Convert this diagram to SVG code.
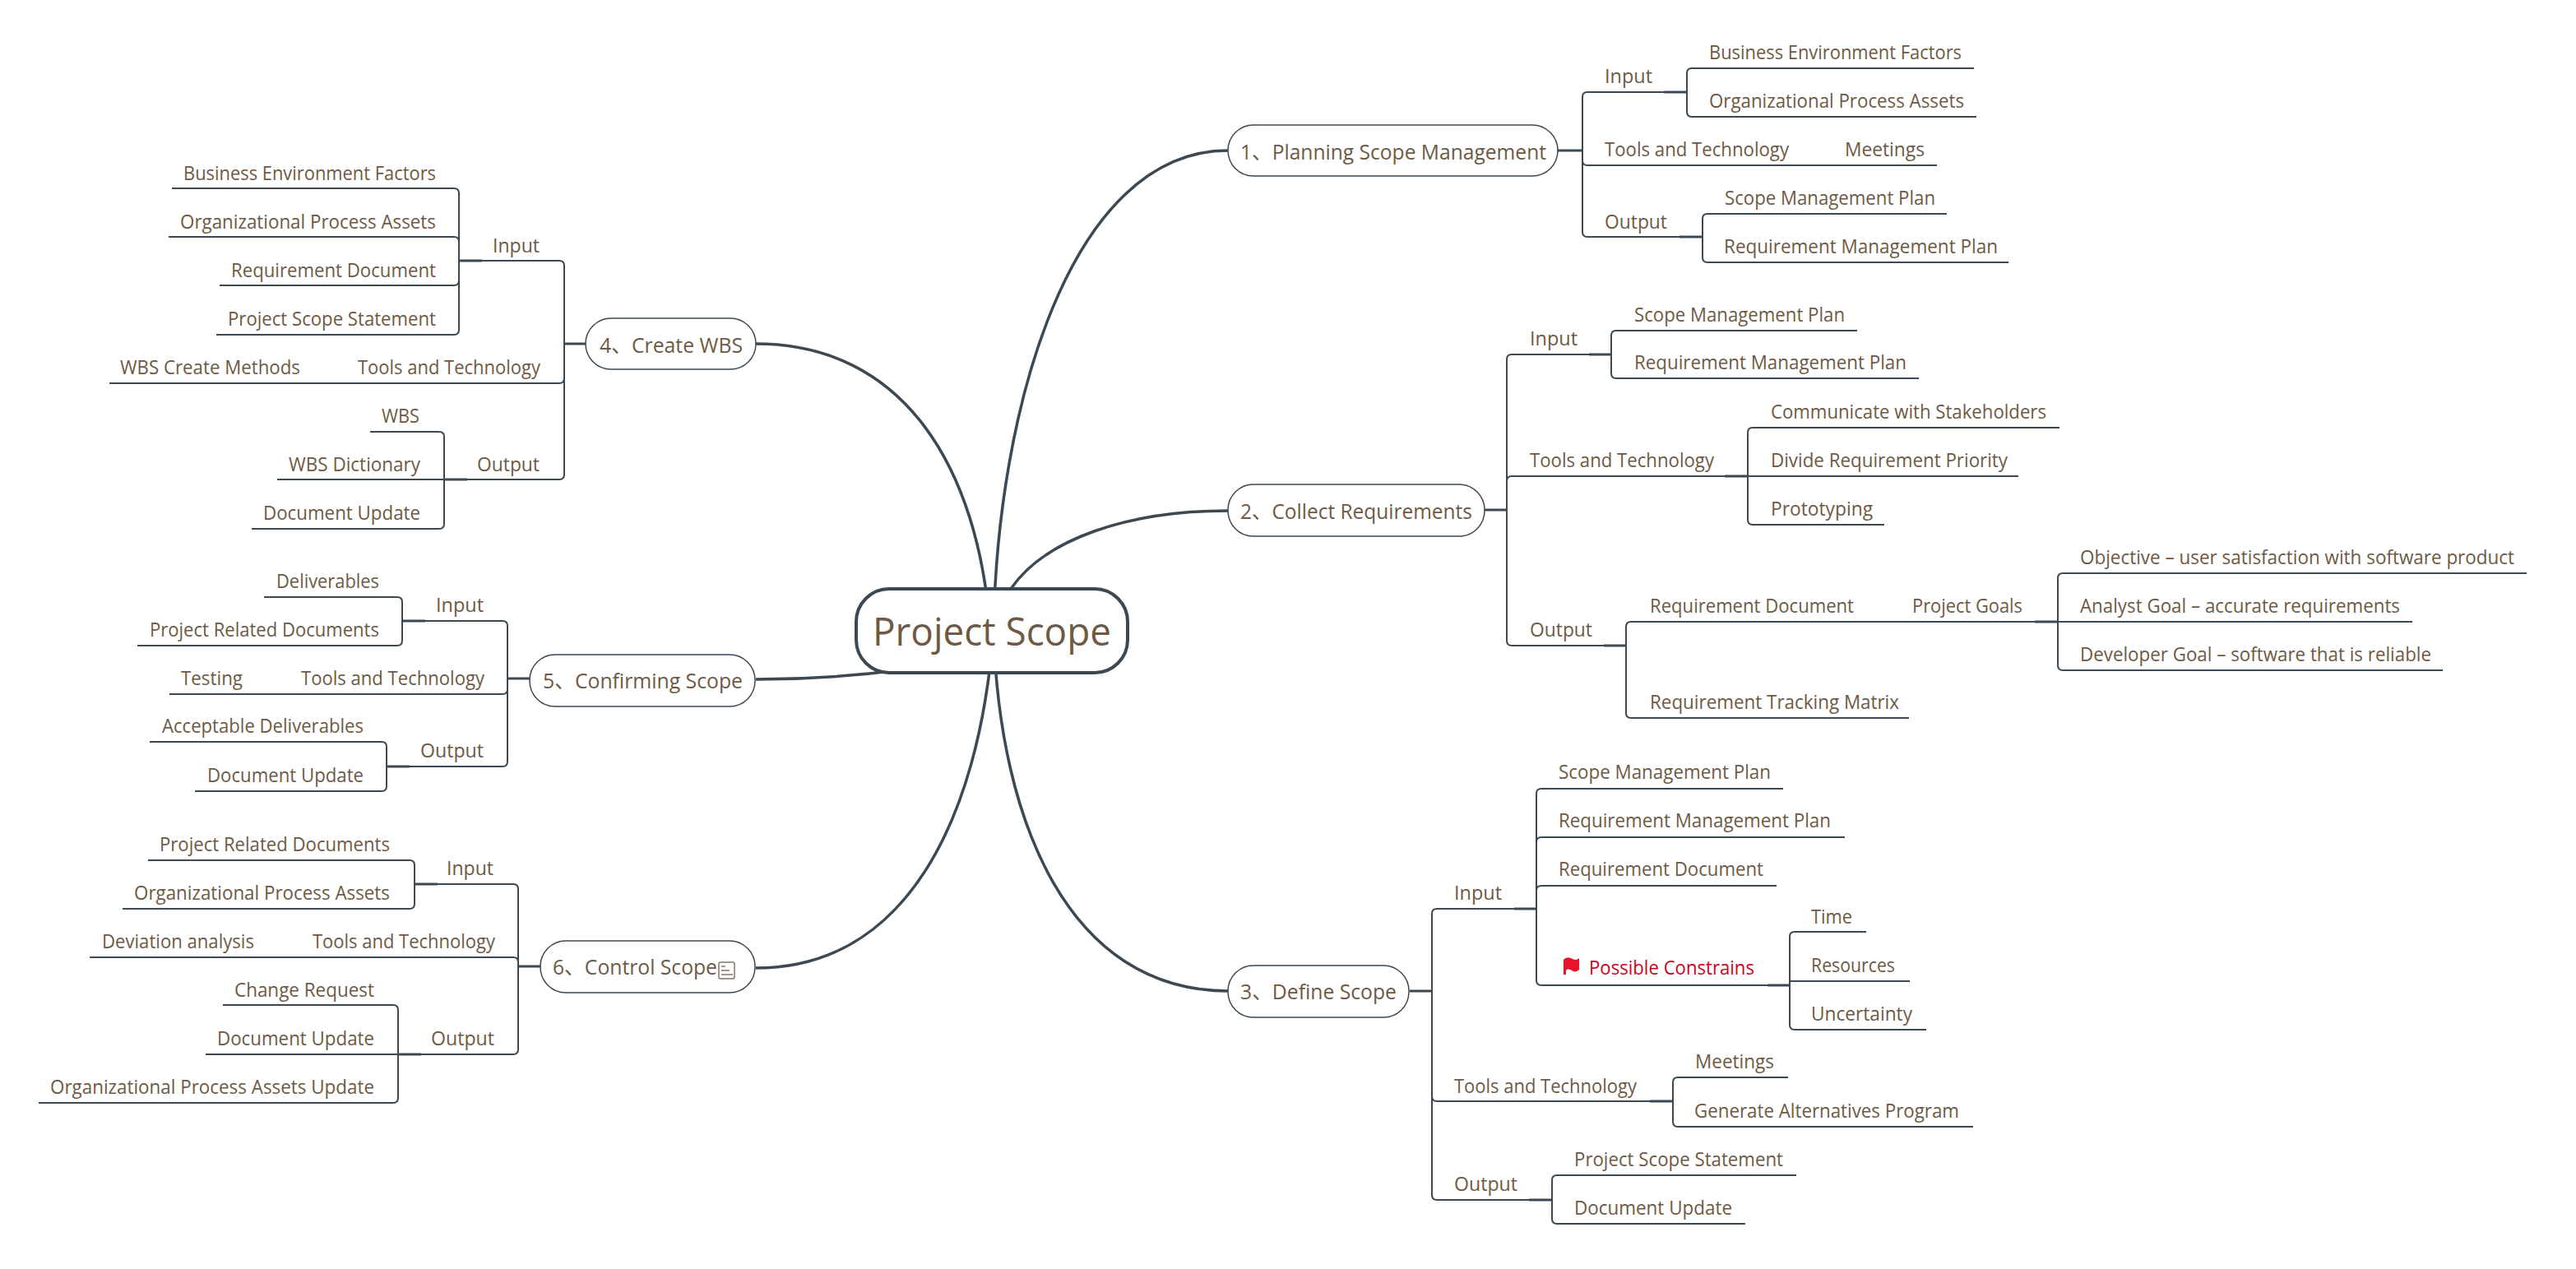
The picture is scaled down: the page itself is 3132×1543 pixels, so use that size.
<svg xmlns="http://www.w3.org/2000/svg" width="3132" height="1543" viewBox="0 0 3132 1543">
<style>
text{font-family:"Open Sans","Noto Sans CJK SC",sans-serif;fill:#6e5a44;font-size:23px}
.b{font-size:26px}
.c{font-size:48px}
.r{fill:#d0021b}
.sh{fill:#fff;stroke:#3c4852;stroke-width:1.5}
.ctr{fill:#fff;stroke:#3c4852;stroke-width:4}
#connectors path{fill:none;stroke:#3c4852;stroke-width:2}
#connectors .m{stroke-width:3.5}
#connectors .s{stroke-width:3}
</style>
<rect width="3132" height="1543" fill="#fff"/>
<g id="connectors">
<path class="m" d="M1208 767C1212 500 1300 183 1493 183"/>
<path class="m" d="M1229 716C1270 656 1370 621 1493 621"/>
<path class="m" d="M1208 767C1215 1000 1300 1205 1493 1205"/>
<path class="m" d="M1204 767C1190 570 1100 418 919 418"/>
<path class="m" d="M1100 814C1040 822 980 826 919 826"/>
<path class="m" d="M1208 767C1190 1000 1100 1177 919 1177"/>
<path class="s" d="M1894 183H1924M1805 620H1832M1714 1205H1741M712 418H686M644 825H617M657 1175H630"/>
<path class="s" d="M2023 112H2051M2042 288H2070M1932 431H1959M2097 579H2125M1950 785H1977M2474 756H2502M1841 1105H1868M2149 1198H2176M2006 1339H2034M1859 1459H1887M558 317H586M540 583H568M489 755H517M470 932H498M504 1075H532M484 1282H512"/>
<path d="M1924 183V118Q1924 112 1930 112H2051"/>
<path d="M2051 112V89Q2051 83 2057 83H2400"/>
<path d="M2051 112V136Q2051 142 2057 142H2403"/>
<path d="M1924 183V195Q1924 201 1930 201H2355"/>
<path d="M1924 183V282Q1924 288 1930 288H2070"/>
<path d="M2070 288V266Q2070 260 2076 260H2367"/>
<path d="M2070 288V313Q2070 319 2076 319H2442"/>
<path d="M1832 620V437Q1832 431 1838 431H1959"/>
<path d="M1959 431V408Q1959 402 1965 402H2258"/>
<path d="M1959 431V454Q1959 460 1965 460H2333"/>
<path d="M1832 620V585Q1832 579 1838 579H2125"/>
<path d="M2125 579V526Q2125 520 2131 520H2504"/>
<path d="M2125 579H2454"/>
<path d="M2125 579V632Q2125 638 2131 638H2291"/>
<path d="M1832 620V779Q1832 785 1838 785H1977"/>
<path d="M1977 785V762Q1977 756 1983 756H2502"/>
<path d="M1977 785V867Q1977 873 1983 873H2321"/>
<path d="M2502 756V703Q2502 697 2508 697H3072"/>
<path d="M2502 756H2933"/>
<path d="M2502 756V809Q2502 815 2508 815H2970"/>
<path d="M1741 1205V1111Q1741 1105 1747 1105H1868"/>
<path d="M1868 1105V965Q1868 959 1874 959H2168"/>
<path d="M1868 1105V1024Q1868 1018 1874 1018H2243"/>
<path d="M1868 1105V1083Q1868 1077 1874 1077H2160"/>
<path d="M1868 1105V1192Q1868 1198 1874 1198H2176"/>
<path d="M2176 1198V1139Q2176 1133 2182 1133H2269"/>
<path d="M2176 1193H2322"/>
<path d="M2176 1198V1246Q2176 1252 2182 1252H2342"/>
<path d="M1741 1205V1333Q1741 1339 1747 1339H2034"/>
<path d="M2034 1339V1316Q2034 1310 2040 1310H2174"/>
<path d="M2034 1339V1364Q2034 1370 2040 1370H2399"/>
<path d="M1741 1205V1453Q1741 1459 1747 1459H1887"/>
<path d="M1887 1459V1435Q1887 1429 1893 1429H2184"/>
<path d="M1887 1459V1482Q1887 1488 1893 1488H2122"/>
<path d="M686 418V323Q686 317 680 317H558"/>
<path d="M558 317V235Q558 229 552 229H209"/>
<path d="M558 317V294Q558 288 552 288H205"/>
<path d="M558 317V341Q558 347 552 347H267"/>
<path d="M558 317V401Q558 407 552 407H263"/>
<path d="M686 418V460Q686 466 680 466H133"/>
<path d="M686 418V577Q686 583 680 583H540"/>
<path d="M540 583V531Q540 525 534 525H450"/>
<path d="M540 583H337"/>
<path d="M540 583V637Q540 643 534 643H306"/>
<path d="M617 825V761Q617 755 611 755H489"/>
<path d="M489 755V732Q489 726 483 726H321"/>
<path d="M489 755V779Q489 785 483 785H167"/>
<path d="M617 825V838Q617 844 611 844H206"/>
<path d="M617 825V926Q617 932 611 932H470"/>
<path d="M470 932V908Q470 902 464 902H182"/>
<path d="M470 932V956Q470 962 464 962H237"/>
<path d="M630 1175V1081Q630 1075 624 1075H504"/>
<path d="M504 1075V1052Q504 1046 498 1046H180"/>
<path d="M504 1075V1099Q504 1105 498 1105H149"/>
<path d="M630 1175V1170Q630 1164 624 1164H109"/>
<path d="M630 1175V1276Q630 1282 624 1282H484"/>
<path d="M484 1282V1228Q484 1222 478 1222H271"/>
<path d="M484 1282H250"/>
<path d="M484 1282V1335Q484 1341 478 1341H47"/>
</g>
<g id="central"><rect class="ctr" x="1041" y="716" width="330" height="102" rx="40"/><text class="c" x="1061" y="785" textLength="290" lengthAdjust="spacingAndGlyphs">Project Scope</text></g>
<g id="n1"><rect class="sh" x="1493" y="152" width="401" height="62" rx="31"/><text class="b" x="1508" y="194" textLength="372" lengthAdjust="spacingAndGlyphs">1、Planning Scope Management</text></g>
<g id="n2"><rect class="sh" x="1493" y="589" width="312" height="63" rx="31"/><text class="b" x="1508" y="631" textLength="282" lengthAdjust="spacingAndGlyphs">2、Collect Requirements</text></g>
<g id="n3"><rect class="sh" x="1493" y="1174" width="220" height="63" rx="31"/><text class="b" x="1508" y="1215" textLength="190" lengthAdjust="spacingAndGlyphs">3、Define Scope</text></g>
<g id="n4"><rect class="sh" x="712" y="387" width="207" height="62" rx="31"/><text class="b" x="729" y="429" textLength="174" lengthAdjust="spacingAndGlyphs">4、Create WBS</text></g>
<g id="n5"><rect class="sh" x="644" y="796" width="274" height="63" rx="31"/><text class="b" x="660" y="837" textLength="243" lengthAdjust="spacingAndGlyphs">5、Confirming Scope</text></g>
<g id="n6"><rect class="sh" x="657" y="1144" width="261" height="63" rx="31"/><text class="b" x="672" y="1185" textLength="200" lengthAdjust="spacingAndGlyphs">6、Control Scope</text>
<g fill="none" stroke="#8a7560" stroke-width="1.5"><rect x="874" y="1170" width="19" height="20" rx="2"/><path d="M877 1175H882M877 1180H887M877 1185H891"/></g></g>
<g id="n1-leaves">
<g id="n1a"><text x="1951" y="101" textLength="58" lengthAdjust="spacingAndGlyphs">Input</text></g>
<g id="n1a1"><text x="2078" y="72" textLength="307" lengthAdjust="spacingAndGlyphs">Business Environment Factors</text></g>
<g id="n1a2"><text x="2078" y="131" textLength="310" lengthAdjust="spacingAndGlyphs">Organizational Process Assets</text></g>
<g id="n1b"><text x="1951" y="190" textLength="224" lengthAdjust="spacingAndGlyphs">Tools and Technology</text></g>
<g id="n1b1"><text x="2243" y="190" textLength="97" lengthAdjust="spacingAndGlyphs">Meetings</text></g>
<g id="n1c"><text x="1951" y="278" textLength="76" lengthAdjust="spacingAndGlyphs">Output</text></g>
<g id="n1c1"><text x="2097" y="249" textLength="256" lengthAdjust="spacingAndGlyphs">Scope Management Plan</text></g>
<g id="n1c2"><text x="2096" y="308" textLength="333" lengthAdjust="spacingAndGlyphs">Requirement Management Plan</text></g>
</g>
<g id="n2-leaves">
<g id="n2a"><text x="1860" y="420" textLength="58" lengthAdjust="spacingAndGlyphs">Input</text></g>
<g id="n2a1"><text x="1987" y="391" textLength="256" lengthAdjust="spacingAndGlyphs">Scope Management Plan</text></g>
<g id="n2a2"><text x="1987" y="449" textLength="331" lengthAdjust="spacingAndGlyphs">Requirement Management Plan</text></g>
<g id="n2b"><text x="1860" y="568" textLength="224" lengthAdjust="spacingAndGlyphs">Tools and Technology</text></g>
<g id="n2b1"><text x="2153" y="509" textLength="335" lengthAdjust="spacingAndGlyphs">Communicate with Stakeholders</text></g>
<g id="n2b2"><text x="2153" y="568" textLength="288" lengthAdjust="spacingAndGlyphs">Divide Requirement Priority</text></g>
<g id="n2b3"><text x="2153" y="627" textLength="124" lengthAdjust="spacingAndGlyphs">Prototyping</text></g>
<g id="n2c"><text x="1860" y="774" textLength="76" lengthAdjust="spacingAndGlyphs">Output</text></g>
<g id="n2c1"><text x="2006" y="745" textLength="248" lengthAdjust="spacingAndGlyphs">Requirement Document</text></g>
<g id="n2c1a"><text x="2325" y="745" textLength="134" lengthAdjust="spacingAndGlyphs">Project Goals</text></g>
<g id="n2c1a1"><text x="2529" y="686" textLength="528" lengthAdjust="spacingAndGlyphs">Objective – user satisfaction with software product</text></g>
<g id="n2c1a2"><text x="2529" y="745" textLength="389" lengthAdjust="spacingAndGlyphs">Analyst Goal – accurate requirements</text></g>
<g id="n2c1a3"><text x="2529" y="804" textLength="427" lengthAdjust="spacingAndGlyphs">Developer Goal – software that is reliable</text></g>
<g id="n2c2"><text x="2006" y="862" textLength="303" lengthAdjust="spacingAndGlyphs">Requirement Tracking Matrix</text></g>
</g>
<g id="n3-leaves">
<g id="n3a"><text x="1768" y="1094" textLength="58" lengthAdjust="spacingAndGlyphs">Input</text></g>
<g id="n3a1"><text x="1895" y="947" textLength="258" lengthAdjust="spacingAndGlyphs">Scope Management Plan</text></g>
<g id="n3a2"><text x="1895" y="1006" textLength="331" lengthAdjust="spacingAndGlyphs">Requirement Management Plan</text></g>
<g id="n3a3"><text x="1895" y="1065" textLength="249" lengthAdjust="spacingAndGlyphs">Requirement Document</text></g>
<g id="n3a4"><path fill="#e8132a" d="M1901 1167C1905 1163 1908 1164 1912 1166C1915 1168 1918 1167 1920 1165V1179C1917 1182 1914 1182 1911 1180C1908 1178 1905 1178 1904 1180V1185H1901Z"/><text class="r" x="1932" y="1185" textLength="201" lengthAdjust="spacingAndGlyphs">Possible Constrains</text></g>
<g id="n3a4a"><text x="2202" y="1123" textLength="50" lengthAdjust="spacingAndGlyphs">Time</text></g>
<g id="n3a4b"><text x="2202" y="1182" textLength="102" lengthAdjust="spacingAndGlyphs">Resources</text></g>
<g id="n3a4c"><text x="2202" y="1241" textLength="123" lengthAdjust="spacingAndGlyphs">Uncertainty</text></g>
<g id="n3b"><text x="1768" y="1329" textLength="222" lengthAdjust="spacingAndGlyphs">Tools and Technology</text></g>
<g id="n3b1"><text x="2061" y="1299" textLength="96" lengthAdjust="spacingAndGlyphs">Meetings</text></g>
<g id="n3b2"><text x="2060" y="1359" textLength="322" lengthAdjust="spacingAndGlyphs">Generate Alternatives Program</text></g>
<g id="n3c"><text x="1768" y="1448" textLength="77" lengthAdjust="spacingAndGlyphs">Output</text></g>
<g id="n3c1"><text x="1914" y="1418" textLength="254" lengthAdjust="spacingAndGlyphs">Project Scope Statement</text></g>
<g id="n3c2"><text x="1914" y="1477" textLength="192" lengthAdjust="spacingAndGlyphs">Document Update</text></g>
</g>
<g id="n4-leaves">
<g id="n4a"><text x="599" y="307" textLength="57" lengthAdjust="spacingAndGlyphs">Input</text></g>
<g id="n4a1"><text x="223" y="219" textLength="307" lengthAdjust="spacingAndGlyphs">Business Environment Factors</text></g>
<g id="n4a2"><text x="219" y="278" textLength="311" lengthAdjust="spacingAndGlyphs">Organizational Process Assets</text></g>
<g id="n4a3"><text x="281" y="337" textLength="249" lengthAdjust="spacingAndGlyphs">Requirement Document</text></g>
<g id="n4a4"><text x="277" y="396" textLength="253" lengthAdjust="spacingAndGlyphs">Project Scope Statement</text></g>
<g id="n4b"><text x="435" y="455" textLength="222" lengthAdjust="spacingAndGlyphs">Tools and Technology</text></g>
<g id="n4b1"><text x="146" y="455" textLength="219" lengthAdjust="spacingAndGlyphs">WBS Create Methods</text></g>
<g id="n4c"><text x="580" y="573" textLength="76" lengthAdjust="spacingAndGlyphs">Output</text></g>
<g id="n4c1"><text x="464" y="514" textLength="46" lengthAdjust="spacingAndGlyphs">WBS</text></g>
<g id="n4c2"><text x="351" y="573" textLength="160" lengthAdjust="spacingAndGlyphs">WBS Dictionary</text></g>
<g id="n4c3"><text x="320" y="632" textLength="191" lengthAdjust="spacingAndGlyphs">Document Update</text></g>
</g>
<g id="n5-leaves">
<g id="n5a"><text x="530" y="744" textLength="58" lengthAdjust="spacingAndGlyphs">Input</text></g>
<g id="n5a1"><text x="336" y="715" textLength="125" lengthAdjust="spacingAndGlyphs">Deliverables</text></g>
<g id="n5a2"><text x="182" y="774" textLength="279" lengthAdjust="spacingAndGlyphs">Project Related Documents</text></g>
<g id="n5b"><text x="366" y="833" textLength="223" lengthAdjust="spacingAndGlyphs">Tools and Technology</text></g>
<g id="n5b1"><text x="220" y="833" textLength="75" lengthAdjust="spacingAndGlyphs">Testing</text></g>
<g id="n5c"><text x="511" y="921" textLength="77" lengthAdjust="spacingAndGlyphs">Output</text></g>
<g id="n5c1"><text x="197" y="891" textLength="245" lengthAdjust="spacingAndGlyphs">Acceptable Deliverables</text></g>
<g id="n5c2"><text x="252" y="951" textLength="190" lengthAdjust="spacingAndGlyphs">Document Update</text></g>
</g>
<g id="n6-leaves">
<g id="n6a"><text x="543" y="1064" textLength="57" lengthAdjust="spacingAndGlyphs">Input</text></g>
<g id="n6a1"><text x="194" y="1035" textLength="280" lengthAdjust="spacingAndGlyphs">Project Related Documents</text></g>
<g id="n6a2"><text x="163" y="1094" textLength="311" lengthAdjust="spacingAndGlyphs">Organizational Process Assets</text></g>
<g id="n6b"><text x="380" y="1153" textLength="222" lengthAdjust="spacingAndGlyphs">Tools and Technology</text></g>
<g id="n6b1"><text x="124" y="1153" textLength="185" lengthAdjust="spacingAndGlyphs">Deviation analysis</text></g>
<g id="n6c"><text x="524" y="1271" textLength="77" lengthAdjust="spacingAndGlyphs">Output</text></g>
<g id="n6c1"><text x="285" y="1212" textLength="170" lengthAdjust="spacingAndGlyphs">Change Request</text></g>
<g id="n6c2"><text x="264" y="1271" textLength="191" lengthAdjust="spacingAndGlyphs">Document Update</text></g>
<g id="n6c3"><text x="61" y="1330" textLength="394" lengthAdjust="spacingAndGlyphs">Organizational Process Assets Update</text></g>
</g>
</svg>
